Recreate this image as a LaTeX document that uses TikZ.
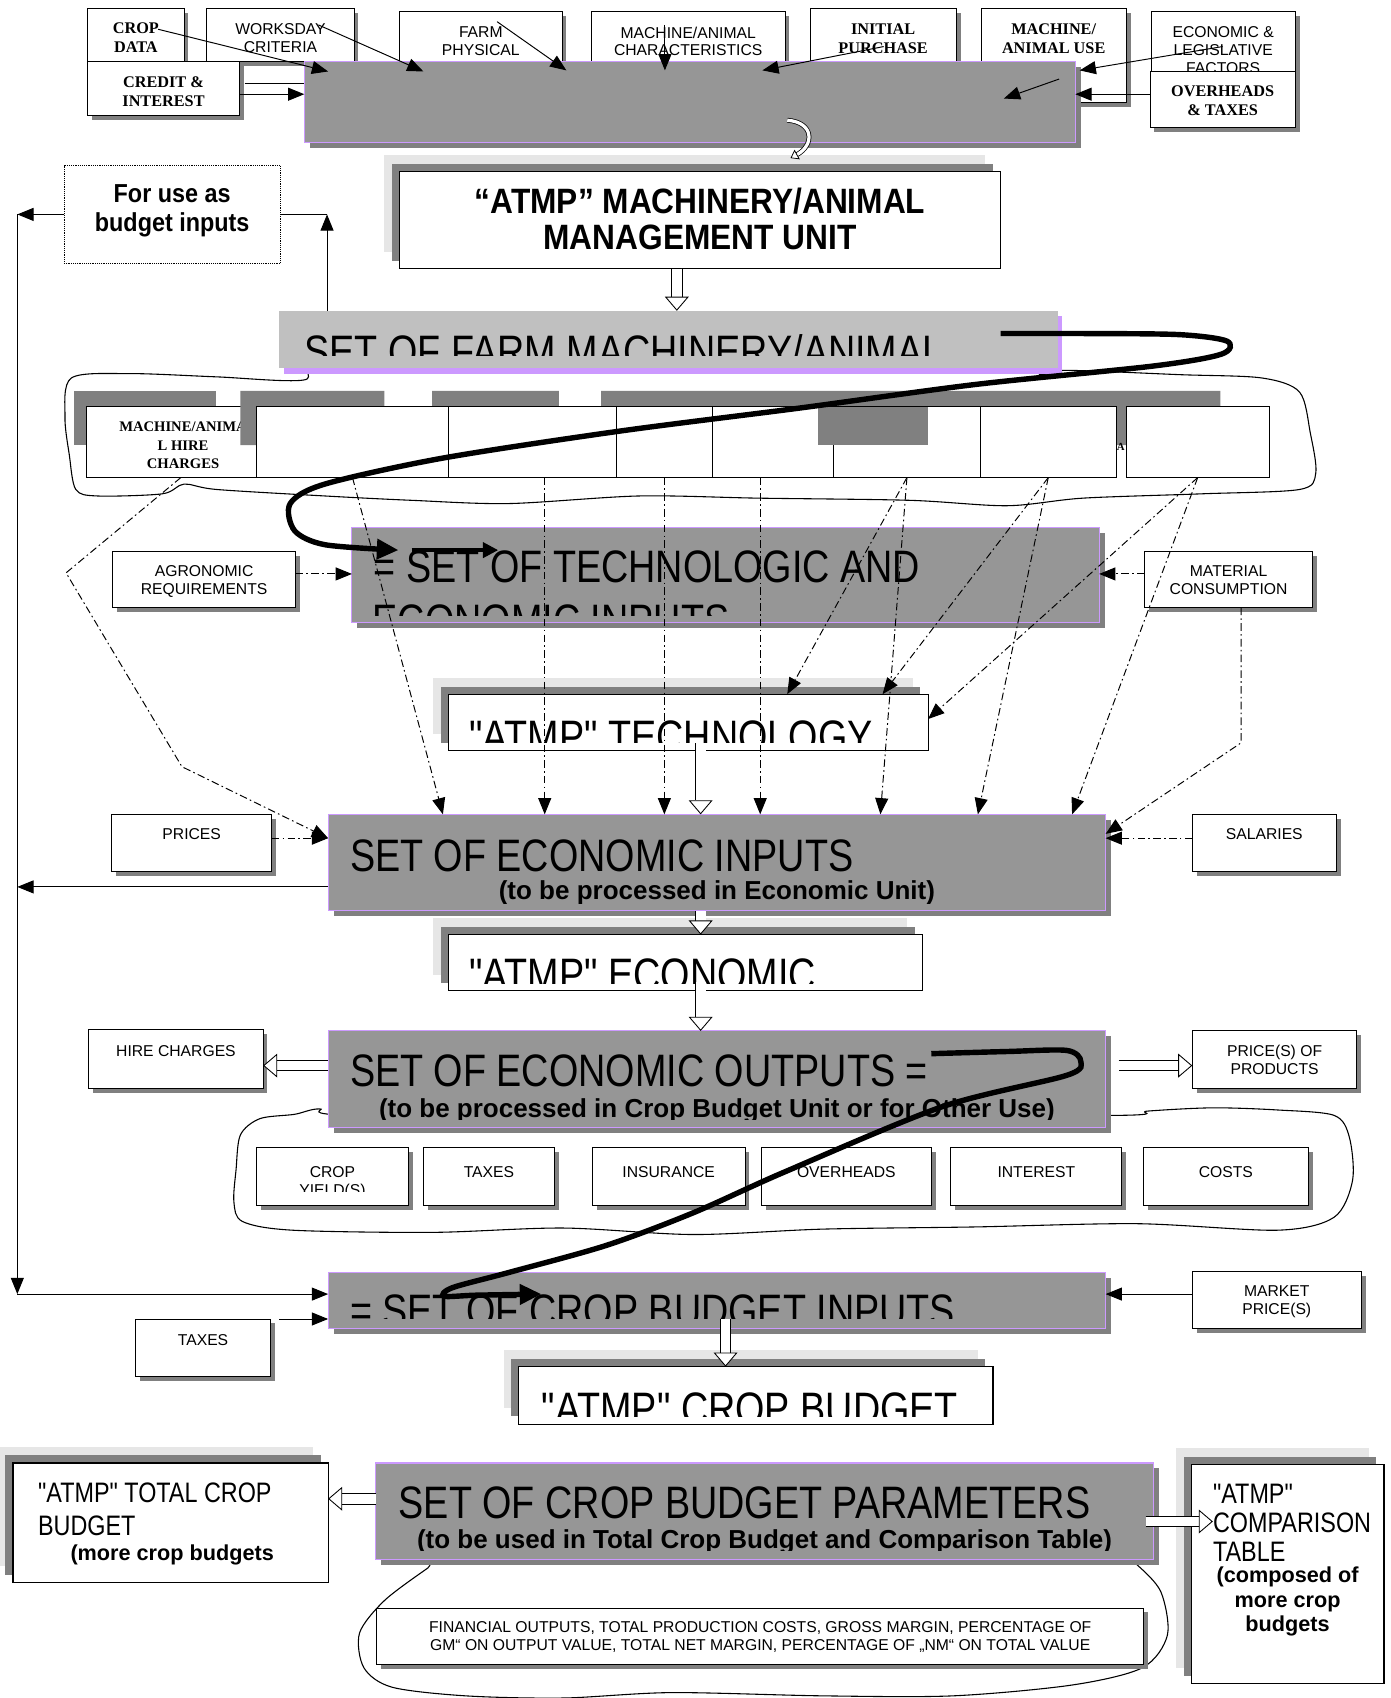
\documentclass[tikz,border=0pt]{standalone}
\usepackage{fontspec}
\setmainfont{Liberation Sans}
\newfontfamily\serifb{Liberation Serif}
\newfontfamily\narrowb[FakeStretch=0.9]{Liberation Sans}
\newfontfamily\comicf[FakeStretch=0.83,Ligatures=TeXOff]{Liberation Sans}
\usetikzlibrary{arrows.meta,positioning,shadows}

\definecolor{boxgray}{RGB}{150,150,150}
\definecolor{shadegray}{RGB}{128,128,128}
\definecolor{paleg}{RGB}{230,230,230}
\definecolor{farmgray}{RGB}{192,192,192}
\definecolor{lilac}{RGB}{204,153,255}

\begin{document}
\begin{tikzpicture}[x=1pt,y=-1pt,
  sbox/.style={draw=black, line width=0.9pt, fill=white, inner sep=0pt, outer sep=0pt, anchor=north west,
    general shadow={fill=shadegray, shadow xshift=4pt, shadow yshift=-4pt}},
  rowbox/.style={draw=black, line width=1pt, fill=white, inner sep=0pt, outer sep=0pt, anchor=north west},
  setbox/.style={draw=lilac, line width=1pt, fill=boxgray, inner sep=0pt, outer sep=0pt, anchor=north west,
    general shadow={fill=shadegray, shadow xshift=5pt, shadow yshift=-5pt}},
  unitbox/.style={draw=black, line width=1pt, fill=white, inner sep=0pt, outer sep=0pt, anchor=north west,
    general shadow={fill=paleg, shadow xshift=-14pt, shadow yshift=15pt},
    general shadow={fill=shadegray, shadow xshift=-7pt, shadow yshift=7pt}},
  lbl/.style={font=\fontsize{14.5}{16.5}\selectfont, align=center, inner sep=0pt},
  serl/.style={font=\serifb\bfseries\fontsize{15}{17.5}\selectfont, align=center, inner sep=0pt},
  big/.style={font=\comicf\fontsize{42}{50}\selectfont, inner sep=0pt, anchor=base west},
  mid/.style={font=\comicf\fontsize{26}{31}\selectfont, inner sep=0pt, anchor=base west},
  sub/.style={font=\bfseries\fontsize{24}{28}\selectfont, inner sep=0pt, anchor=base},
  myarrow/.style={line width=0.9pt, -{Triangle[length=15pt,width=12pt]}},
  dd/.style={line width=0.9pt, dash pattern=on 7pt off 3pt on 1.5pt off 3pt},
  hollow/.style={line width=0.8pt, double=white, double distance=9pt,
    -{Triangle[length=13pt,width=22pt,fill=white,line width=0.8pt]}},
  curl/.style={line width=0.7pt, double=white, double distance=3pt,
    -{Triangle[length=7pt,width=10pt,fill=white,line width=0.7pt]}},
  fat/.style={line width=5pt, -{Triangle[length=20pt,width=18pt]}},
  blob/.style={line width=1pt}
  ]
\useasboundingbox[fill=white] (0,0) rectangle (1284,1568);

% input boxes on top
\node[sbox, minimum width=89pt, minimum height=52pt] (cropdata) at (81,8) {};
\node[serl, below=13pt of cropdata.north] (cropdatat) {CROP\\DATA};
\node[sbox, minimum width=136pt, minimum height=49pt] (worksday) at (191,8) {};
\node[lbl, below=13.5pt of worksday.north] (worksdayt) {WORKSDAY\\CRITERIA};
\node[sbox, minimum width=150pt, minimum height=59pt] (farmphys) at (369,11) {};
\node[lbl, below=13.5pt of farmphys.north] (farmphyst) {FARM\\PHYSICAL};
\node[sbox, minimum width=179pt, minimum height=59pt] (machchar) at (546,11) {};
\node[lbl, below=13.5pt of machchar.north] (machchart) {MACHINE/ANIMAL\\CHARACTERISTICS};
\node[sbox, minimum width=135pt, minimum height=62pt] (initpur) at (748,8) {};
\node[serl, below=13.5pt of initpur.north] (initpurt) {INITIAL\\PURCHASE};
\node[sbox, minimum width=134pt, minimum height=87pt] (machuse) at (906,8) {};
\node[serl, below=13.5pt of machuse.north] (machuset) {MACHINE/\\ANIMAL USE};
\node[sbox, minimum width=133pt, minimum height=64pt] (econleg) at (1063,11) {};
\node[lbl, below=13.5pt of econleg.north] (econlegt) {ECONOMIC \&\\LEGISLATIVE\\FACTORS};
\node[sbox, minimum width=134pt, minimum height=52pt] (overhd) at (1062,66) {};
\node[serl, below=13pt of overhd.north] (overhdt) {OVERHEADS\\\& TAXES};
\node[sbox, minimum width=140pt, minimum height=50pt] (credit) at (81,57) {};
\node[serl, below=14pt of credit.north] (creditt) {CREDIT \&\\INTEREST};

\node[setbox, minimum width=712pt, minimum height=75pt] (topmain) at (281,57) {};

\draw[myarrow] ([shift={(65,19)}]cropdata.north west) -- ([shift={(22,9)}]topmain.north west);
\draw[myarrow] ([shift={(103,15)}]worksday.north west) -- ([shift={(110,9)}]topmain.north west);
\draw[myarrow] ([shift={(90,9)}]farmphys.north west) -- ([shift={(242,8)}]topmain.north west);
\draw[myarrow] ([shift={(68,12)}]machchar.north west) -- ([shift={(333,8)}]topmain.north west);
\draw[myarrow] ([shift={(68,35)}]initpur.north west) -- ([shift={(423,8)}]topmain.north west);
\draw[myarrow] ([shift={(66,32)}]econleg.north west) -- ([shift={(4,8)}]topmain.north east);
\draw[myarrow] ([shift={(72,65)}]machuse.north west) -- ([shift={(-66,34)}]topmain.north east);
\draw[myarrow] ([yshift=5pt]overhd.west) -- ([yshift=7.5pt]topmain.east);
\draw[line width=0.9pt] ([shift={(5,20)}]credit.north east) -- ([yshift=-20pt]topmain.north west);
\draw[myarrow] ([yshift=-30pt]credit.north east) -- ([yshift=-30pt]topmain.north west);

% management unit
\node[unitbox, minimum width=555pt, minimum height=90pt] (mgmt) at (369,158) {};
\node[font=\narrowb\bfseries\fontsize{32.5}{34}\selectfont, align=center, inner sep=0pt, below=15pt of mgmt.north] (mgmtt)
  {“ATMP” MACHINERY/ANIMAL\\MANAGEMENT UNIT};
\draw[curl] ([shift={(-266,-21)}]topmain.south east) .. controls +(25,2) and +(22,-12) .. ([shift={(83.5,-12)}]mgmt.north);

\node[draw, densely dotted, line width=0.7pt, inner sep=0pt, outer sep=0pt, anchor=north west,
  minimum width=200pt, minimum height=90pt] (budget) at (59,153) {};
\node[font=\narrowb\bfseries\fontsize{24}{27.5}\selectfont, align=center, inner sep=0pt, below=17pt of budget.north] (budgett)
  {For use as\\budget inputs};

% machinery set and its group
\draw[blob] plot[smooth cycle, tension=0.5] coordinates {(66,349) (120,345) (200,348) (280,351) (310,333) (600,325)
  (940,330) (960,346) (985,342) (1090,346) (1165,349) (1200,362) (1210,400) (1215,437) (1200,452) (1110,456)
  (1000,460) (930,467) (840,462) (700,460) (590,458) (470,465) (380,462) (300,458) (200,452) (170,447)
  (150,456) (90,458) (70,452) (64,420) (60,385)};
\node[fill=farmgray, inner sep=0pt, outer sep=0pt, anchor=north west, minimum width=719pt, minimum height=53pt,
  general shadow={fill=lilac, shadow xshift=4pt, shadow yshift=-5pt}] (farmset) at (258,287) {};
\begin{scope}
  \clip (farmset.north west) rectangle ([yshift=12pt]farmset.south east);
  \node[big] (farmsett) at ([shift={(23,52)}]farmset.north west) {SET OF FARM MACHINERY/ANIMAL};
\end{scope}
\draw[hollow] ([xshift=-21.5pt]mgmt.south) -- ([xshift=7.5pt]farmset.north);

\coordinate (lefttop) at (16,198);
\coordinate (leftmid) at (16,819);
\coordinate (leftbot) at (16,1195);
\draw[myarrow] (budget.west) -- (lefttop);
\draw[line width=0.9pt] (budget.east) -- ([xshift=43pt]budget.east);
\draw[myarrow] ([xshift=44pt]farmset.north west) -- ([xshift=43pt]budget.east);

\fill[shadegray] (68,361) rectangle (199,411);
\node[rowbox, minimum width=157pt, minimum height=66pt] (r1) at (80,375) {};
\node[serl, font=\serifb\bfseries\fontsize{13.5}{17}\selectfont, below=14.5pt of r1.north, xshift=10.5pt] (r1t)
  {MACHINE/ANIMA\\L HIRE\\CHARGES};
\fill[shadegray] (222,361) rectangle (355,411) (399,361) rectangle (516,411) (555,361) rectangle (1127,376)
  (555,376) rectangle (569,411) (643,376) rectangle (658,411) (890,376) rectangle (905,411)
  (1025,376) rectangle (1040,411);
\node[rowbox, minimum width=177pt, minimum height=66pt] (r2) at (237,375) {};
\node[rowbox, minimum width=155pt, minimum height=66pt] (r3) at (414,375) {};
\node[rowbox, minimum width=89pt, minimum height=66pt] (r4) at (569,375) {};
\node[rowbox, minimum width=112pt, minimum height=66pt] (r5) at (658,375) {};
\node[rowbox, minimum width=135pt, minimum height=66pt] (r6) at (770,375) {};
\node[rowbox, minimum width=126pt, minimum height=66pt] (r7) at (905,375) {};
\node[rowbox, minimum width=132pt, minimum height=66pt] (r8) at (1040,375) {};
\fill[shadegray] (755,376) rectangle (857,411);
\node[serl, font=\serifb\bfseries\fontsize{10}{12}\selectfont] (rowa) at (1035,413) {A};

% technology
\node[sbox, minimum width=169pt, minimum height=52pt] (agron) at (104,509) {};
\node[lbl, below=13pt of agron.north] (agront) {AGRONOMIC\\REQUIREMENTS};
\node[sbox, minimum width=155pt, minimum height=52pt] (material) at (1057,509) {};
\node[lbl, below=13pt of material.north] (materialt) {MATERIAL\\CONSUMPTION};
\node[setbox, minimum width=690pt, minimum height=88pt] (techset) at (325,487) {};
\begin{scope}
  \clip (techset.north west) rectangle ([yshift=7pt]techset.south east);
  \node[big] (techsett) at ([shift={(20,51)}]techset.north west) {= SET OF TECHNOLOGIC AND};
  \node[big] (techsetu) at ([shift={(19,101)}]techset.north west) {ECONOMIC INPUTS};
\end{scope}
\node[unitbox, minimum width=443pt, minimum height=52pt] (techatmp) at (414,641) {};
\begin{scope}
  \clip (techatmp.north west) rectangle ([yshift=7pt]techatmp.south east);
  \node[big] (techatmpt) at ([shift={(19,54)}]techatmp.north west) {"ATMP" TECHNOLOGY};
\end{scope}

% economic unit
\node[sbox, minimum width=148pt, minimum height=53pt] (prices) at (103,752) {};
\node[lbl, below=13pt of prices.north] (pricest) {PRICES};
\node[sbox, minimum width=133pt, minimum height=53pt] (salaries) at (1101,752) {};
\node[lbl, below=13pt of salaries.north] (salariest) {SALARIES};
\node[setbox, minimum width=718pt, minimum height=89pt] (ecoin) at (303,752) {};
\begin{scope}
  \clip (ecoin.north west) rectangle ([yshift=7pt]ecoin.south east);
  \node[big] (ecoint) at ([shift={(20,53)}]ecoin.north west) {SET OF ECONOMIC INPUTS};
  \node[sub] (ecoins) at ([yshift=10pt]ecoin.south) {(to be processed in Economic Unit)};
\end{scope}
\node[unitbox, minimum width=438pt, minimum height=52pt] (ecoatmp) at (414,863) {};
\begin{scope}
  \clip (ecoatmp.north west) rectangle ([yshift=7pt]ecoatmp.south east);
  \node[big] (ecoatmpt) at ([shift={(19,52)}]ecoatmp.north west) {"ATMP" ECONOMIC};
\end{scope}

\coordinate (va) at ([xshift=11.5pt]r3.south);
\coordinate (vb) at ([xshift=-12pt]r5.south);
\draw[dd,myarrow] (va) -- (va |- ecoin.north);
\draw[dd,myarrow] (r4.south) -- (r4.south |- ecoin.north);
\draw[dd,myarrow] (vb) -- (vb |- ecoin.north);
\draw[dd,myarrow] (r2.south) -- ([xshift=106pt]ecoin.north west);
\draw[dd,myarrow] (r6.south) -- ([xshift=313pt]techatmp.north west);
\draw[dd,myarrow] (r6.south) -- ([xshift=510pt]ecoin.north west);
\draw[dd,myarrow] (r7.south) -- ([xshift=401pt]techatmp.north west);
\draw[dd,myarrow] (r7.south) -- ([xshift=600pt]ecoin.north west);
\draw[dd,myarrow] (r8.south) -- ([yshift=-23pt]techatmp.north east);
\draw[dd,myarrow] (r8.south) -- ([xshift=687pt]ecoin.north west);
\draw[dd,myarrow] ([xshift=8.5pt]r1.south) -- (61,529) -- (168,708) -- ([yshift=22.5pt]ecoin.west);
\draw[dd,myarrow] ([yshift=4.5pt]prices.east) -- ([yshift=22.5pt]ecoin.west);
\draw[dd,myarrow] ([yshift=4.5pt]salaries.west) -- ([yshift=22.5pt]ecoin.east);
\draw[dd,myarrow] ([xshift=11.5pt]material.south) -- ++(0,125) -- ([yshift=26.5pt]ecoin.east);
\draw[dd,myarrow] ([yshift=5pt]agron.east) -- ([yshift=1pt]techset.west);
\draw[dd,myarrow] ([yshift=5pt]material.west) -- ([yshift=1pt]techset.east);

\draw[hollow] ([xshift=11.5pt,yshift=7pt]techatmp.south) -- ([xshift=-15pt]ecoin.north);
\draw[hollow] ([xshift=-15pt]ecoin.south) -- ([xshift=14pt]ecoatmp.north);
\draw[myarrow] (leftmid -| ecoin.west) -- (leftmid);

\draw[fat] plot[smooth, tension=0.5] coordinates {(924,308) (1000,308) (1089,309) (1133,315) (1128,327)
  (1065,338) (901,355) (737,377) (573,398) (409,423) (300,447) (268,465) (272,490) (300,503) (368,508)};
\draw[line width=3pt, -{Triangle[length=14pt,width=14pt]}] ([shift={(55,21)}]techset.north west) -- ([shift={(135,21)}]techset.north west);

% economic outputs
\draw[blob] plot[smooth cycle, tension=0.5] coordinates {(330,1030) (295,1024) (272,1029) (240,1033) (222,1048)
  (218,1080) (216,1110) (224,1128) (270,1136) (400,1138) (520,1134) (640,1140) (760,1135) (900,1133)
  (1050,1130) (1180,1136) (1232,1124) (1249,1090) (1246,1050) (1232,1030) (1180,1025) (1120,1023)
  (1060,1026) (1030,1030) (700,1030)};
\node[sbox, minimum width=161pt, minimum height=54pt] (hirech) at (82,951) {};
\node[lbl, below=14pt of hirech.north] (hirecht) {HIRE CHARGES};
\node[setbox, minimum width=718pt, minimum height=89pt] (ecoout) at (303,952) {};
\begin{scope}
  \clip (ecoout.north west) rectangle ([yshift=7pt]ecoout.south east);
  \node[big] (ecooutt) at ([shift={(20,51)}]ecoout.north west) {SET OF ECONOMIC OUTPUTS =};
  \node[sub] (ecoouts) at ([yshift=9pt]ecoout.south) {(to be processed in Crop Budget Unit or for Other Use)};
\end{scope}
\node[sbox, minimum width=152pt, minimum height=53pt] (priceprod) at (1101,952) {};
\node[lbl, below=13pt of priceprod.north] (priceprodt) {PRICE(S) OF\\PRODUCTS};
\draw[hollow] ([xshift=14pt,yshift=8pt]ecoatmp.south) -- ([xshift=-15pt]ecoout.north);
\draw[hollow] ([yshift=12.5pt]ecoout.west) -- ([yshift=-6pt]hirech.east);
\draw[hollow] ([shift={(12,-12.5)}]ecoout.east) -- ([yshift=-5.5pt]priceprod.west);

\node[sbox, minimum width=140pt, minimum height=53pt] (cy) at (237,1060) {};
\begin{scope}
  \clip (cy.north west) rectangle ([yshift=13pt]cy.south east);
  \node[lbl, below=17pt of cy.north] (cyt) {CROP\\YIELD(S)};
\end{scope}
\node[sbox, minimum width=121pt, minimum height=53pt] (tx) at (391,1060) {};
\node[lbl, below=17pt of tx.north] (txt) {TAXES};
\node[sbox, minimum width=141pt, minimum height=53pt] (ins) at (547,1060) {};
\node[lbl, below=17pt of ins.north] (inst) {INSURANCE};
\node[sbox, minimum width=157pt, minimum height=53pt] (ovh) at (703,1060) {};
\node[lbl, below=17pt of ovh.north] (ovht) {OVERHEADS};
\node[sbox, minimum width=158pt, minimum height=53pt] (intr) at (878,1060) {};
\node[lbl, below=17pt of intr.north] (intrt) {INTEREST};
\node[sbox, minimum width=152pt, minimum height=53pt] (costs) at (1056,1060) {};
\node[lbl, below=17pt of costs.north] (costst) {COSTS};

% crop budget
\node[setbox, minimum width=718pt, minimum height=52pt] (cropin) at (303,1175) {};
\begin{scope}
  \clip (cropin.north west) rectangle ([yshift=9pt]cropin.south east);
  \node[big] (cropint) at ([shift={(20,50)}]cropin.north west) {= SET OF CROP BUDGET INPUTS};
\end{scope}
\node[sbox, minimum width=156pt, minimum height=53pt] (marketpr) at (1101,1174) {};
\node[lbl, below=13pt of marketpr.north] (marketprt) {MARKET\\PRICE(S)};
\node[sbox, minimum width=125pt, minimum height=53pt] (taxes2) at (125,1218) {};
\node[lbl, below=14pt of taxes2.north] (taxes2t) {TAXES};
\node[unitbox, minimum width=438pt, minimum height=53pt] (cropatmp) at (479,1262) {};
\begin{scope}
  \clip (cropatmp.north west) rectangle ([yshift=7pt]cropatmp.south east);
  \node[big] (cropatmpt) at ([shift={(21,53)}]cropatmp.north west) {"ATMP" CROP BUDGET};
\end{scope}
\draw[myarrow] ([yshift=5.5pt]marketpr.west) -- ([yshift=6pt]cropin.east);
\draw[myarrow] ([xshift=8pt]taxes2.north east) -- ([yshift=-17pt]cropin.west);
\draw[hollow] ([xshift=8pt,yshift=9pt]cropin.south) -- ([xshift=-28pt]cropatmp.north);
\draw[myarrow] (lefttop) -- (leftbot);
\draw[myarrow] (leftbot) -- ([yshift=6pt]cropin.west);

\draw[fat] plot[smooth, tension=0.5] coordinates {(860,973) (930,971) (985,970) (998,980) (985,993)
  (870,1022) (725,1082) (640,1120) (560,1150) (470,1175) (418,1189) (410,1197) (440,1196) (500,1195)};

% budget parameters
\draw[blob] plot[smooth cycle, tension=0.5] coordinates {(420,1432) (395,1448) (355,1478) (332,1508) (336,1540)
  (362,1558) (430,1566) (520,1568) (620,1563) (760,1566) (880,1566) (990,1556) (1055,1540) (1078,1510)
  (1072,1470) (1050,1445) (1030,1432) (700,1425)};
\node[setbox, minimum width=718pt, minimum height=89pt] (params) at (347,1351) {};
\node[big] (paramst) at ([shift={(21,51)}]params.north west) {SET OF CROP BUDGET PARAMETERS};
\begin{scope}
  \clip (params.north west) rectangle ([yshift=8pt]params.south east);
  \node[sub] (paramss) at ([yshift=10pt]params.south) {(to be used in Total Crop Budget and Comparison Table)};
\end{scope}
\node[unitbox, minimum width=291pt, minimum height=110pt] (totalcrop) at (12,1351) {};
\node[mid] (totalcropt) at ([shift={(23,36)}]totalcrop.north west) {"ATMP" TOTAL CROP};
\node[mid] (totalcropu) at ([shift={(23,67)}]totalcrop.north west) {BUDGET};
\node[font=\bfseries\fontsize{20}{23}\selectfont, inner sep=0pt, anchor=base] (totalcropm)
  at ([shift={(1.5,-20)}]totalcrop.south) {(more crop budgets};
\node[unitbox, minimum width=178pt, minimum height=203pt] (comparison) at (1100,1352) {};
\node[mid] (compt1) at ([shift={(20,36)}]comparison.north west) {"ATMP"};
\node[mid] (compt2) at ([shift={(20,63)}]comparison.north west) {COMPARISON};
\node[mid] (compt3) at ([shift={(20,90)}]comparison.north west) {TABLE};
\node[font=\bfseries\fontsize{20}{22.5}\selectfont, align=center, inner sep=0pt, below=95pt of comparison.north] (compt4)
  {(composed of\\more crop\\budgets};
\node[sbox, minimum width=708pt, minimum height=52pt] (financial) at (348,1485) {};
\node[lbl, below=12pt of financial.north] (financialt)
  {FINANCIAL OUTPUTS, TOTAL PRODUCTION COSTS, GROSS MARGIN, PERCENTAGE OF\\GM“ ON OUTPUT VALUE, TOTAL NET MARGIN, PERCENTAGE OF „NM“ ON TOTAL VALUE};
\draw[hollow] ([yshift=11.5pt]params.west) -- ([yshift=22pt]totalcrop.east);
\draw[hollow] ([shift={(-7,9.5)}]params.east) -- ([shift={(20,-48.5)}]comparison.west);

\end{tikzpicture}
\end{document}
